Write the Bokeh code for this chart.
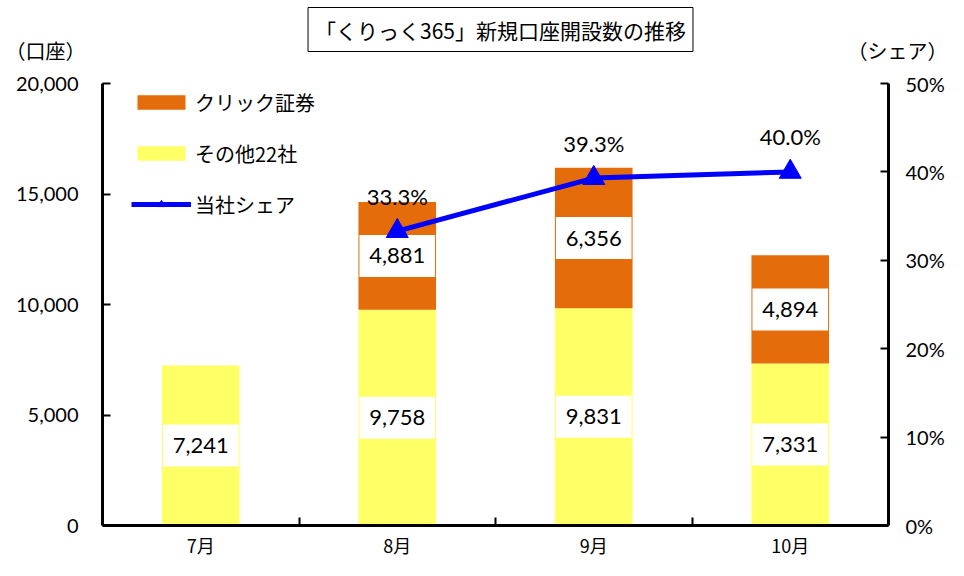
from bokeh.plotting import figure
from bokeh.layouts import column
from bokeh.models import (Range1d, LinearAxis, FixedTicker, NumeralTickFormatter,
                          Legend, LegendItem, Label, ColumnDataSource)
from bokeh.core.properties import value
from bokeh.embed import file_html
from bokeh.resources import INLINE

# ---- data ----
months = ["7月", "8月", "9月", "10月"]
click = [0, 4881, 6356, 4894]          # クリック証券
others = [7241, 9758, 9831, 7331]      # その他22社
share = [None, 0.333, 0.393, 0.400]    # 当社シェア
left_ticks = [0, 5000, 10000, 15000, 20000]
right_ticks = [0.0, 0.1, 0.2, 0.3, 0.4, 0.5]
title_text = "「くりっく365」新規口座開設数の推移"
series_names = ["クリック証券", "その他22社", "当社シェア"]
left_unit = "（口座）"
right_unit = "（シェア）"

ORANGE = "#E46C0A"
YELLOW = "#FFFF66"
BLUE = "#0000FF"
JP = "Noto Sans CJK JP"
NUM = "Lato"

W = 948
TOP_H = 66
MAIN_H = 560 - TOP_H

# ---- header strip (title + unit labels) ----
top = figure(width=W, height=TOP_H, x_range=Range1d(0, W), y_range=Range1d(TOP_H, 0),
             toolbar_location=None, output_backend="svg",
             x_axis_location=None, y_axis_location=None,
             min_border_left=0, min_border_right=0, min_border_top=0, min_border_bottom=0)
top.frame_align = False
top.outline_line_color = None
top.grid.grid_line_color = None
top.add_layout(Label(x=500, y=29, text=title_text, text_align="center", text_baseline="middle",
                     text_font=JP, text_font_size="21px", text_color="black",
                     border_line_color="black", border_line_width=1,
                     background_fill_color="white", padding=7))
top.add_layout(Label(x=45, y=50, text=left_unit, text_align="center", text_baseline="middle",
                     text_font=JP, text_font_size="20px", text_color="black"))
top.add_layout(Label(x=W - 1, y=50, text=right_unit, text_align="right", text_baseline="middle",
                     text_font=JP, text_font_size="20px", text_color="black"))

# ---- main chart ----
n = len(months)
xc = [i + 0.5 for i in range(n)]
bounds = [float(i) for i in range(1, n)]

p = figure(width=W, height=MAIN_H, x_range=Range1d(0, n), y_range=Range1d(0, 20000),
           toolbar_location=None, output_backend="svg",
           x_axis_location=None, y_axis_location=None,
           min_border_left=102, min_border_right=60, min_border_top=17, min_border_bottom=35)
p.frame_align = False
p.extra_y_ranges = {"share": Range1d(0, 0.5)}
p.outline_line_color = None
p.grid.grid_line_color = None

ly = LinearAxis(ticker=FixedTicker(ticks=left_ticks), formatter=NumeralTickFormatter(format="0,0"))
ry = LinearAxis(y_range_name="share", ticker=FixedTicker(ticks=right_ticks),
                formatter=NumeralTickFormatter(format="0%"))
for ax in (ly, ry):
    ax.axis_line_width = 3
    ax.axis_line_color = "black"
    ax.major_tick_in = 8
    ax.major_tick_out = 0
    ax.major_tick_line_width = 2
    ax.major_tick_line_color = "black"
    ax.minor_tick_line_color = None
    ax.major_label_text_font = NUM
    ax.major_label_text_font_size = "20px"
    ax.major_label_text_color = "black"
ly.major_label_standoff = 24
ry.major_label_standoff = 17
p.add_layout(ly, "left")
p.add_layout(ry, "right")

xa = LinearAxis(ticker=FixedTicker(ticks=xc, minor_ticks=bounds),
                major_label_overrides={c: m for c, m in zip(xc, months)})
xa.axis_line_width = 3
xa.axis_line_color = "black"
xa.major_tick_line_color = None
xa.minor_tick_in = 8
xa.minor_tick_out = 0
xa.minor_tick_line_width = 2
xa.minor_tick_line_color = "black"
xa.major_label_text_font = JP
xa.major_label_text_font_size = "18px"
xa.major_label_text_color = "black"
xa.major_label_standoff = 0
p.add_layout(xa, "below")

# bars
src = ColumnDataSource(dict(x=xc, others=others, click=click))
r_oth, r_click = p.vbar_stack(["others", "click"], x="x", width=0.395,
                              fill_color=[YELLOW, ORANGE], line_color=None, source=src)

# value labels with white boxes
lab_x, lab_y, lab_t = [], [], []
for i in range(n):
    lab_x.append(xc[i]); lab_y.append(others[i] / 2); lab_t.append(f"{others[i]:,}")
    if click[i] > 0:
        lab_x.append(xc[i]); lab_y.append(others[i] + click[i] / 2); lab_t.append(f"{click[i]:,}")
p.rect(x=lab_x, y=lab_y, width=0.385, height=42, height_units="screen",
       fill_color="white", line_color=None)
p.text(x=lab_x, y=lab_y, text=lab_t, text_align="center", text_baseline="middle",
       text_font=value(NUM), text_font_size="22px", text_color="black")

# share line
sx = [xc[i] for i in range(n) if share[i] is not None]
sy = [share[i] for i in range(n) if share[i] is not None]
r_line = p.line(sx, sy, y_range_name="share", line_width=5, color=BLUE)
r_mark = p.scatter(sx, sy, y_range_name="share", marker="triangle", size=22, color=BLUE)
p.text(x=sx, y=sy, text=[f"{v * 100:.1f}%" for v in sy], y_range_name="share",
       y_offset=-35, text_align="center", text_baseline="middle",
       text_font=value(NUM), text_font_size="22px", text_color="black")

legend = Legend(items=[LegendItem(label=series_names[0], renderers=[r_click]),
                       LegendItem(label=series_names[1], renderers=[r_oth]),
                       LegendItem(label=series_names[2], renderers=[r_line, r_mark])],
                location=(29, 306), orientation="vertical",
                glyph_width=60, glyph_height=18, label_height=30, spacing=21,
                label_standoff=4, padding=0, margin=0,
                border_line_color=None, background_fill_alpha=0,
                label_text_font=JP, label_text_font_size="20px", label_text_color="black")
p.add_layout(legend)

layout = column(top, p, spacing=0)
open("out.html", "w").write(file_html(layout, INLINE))
